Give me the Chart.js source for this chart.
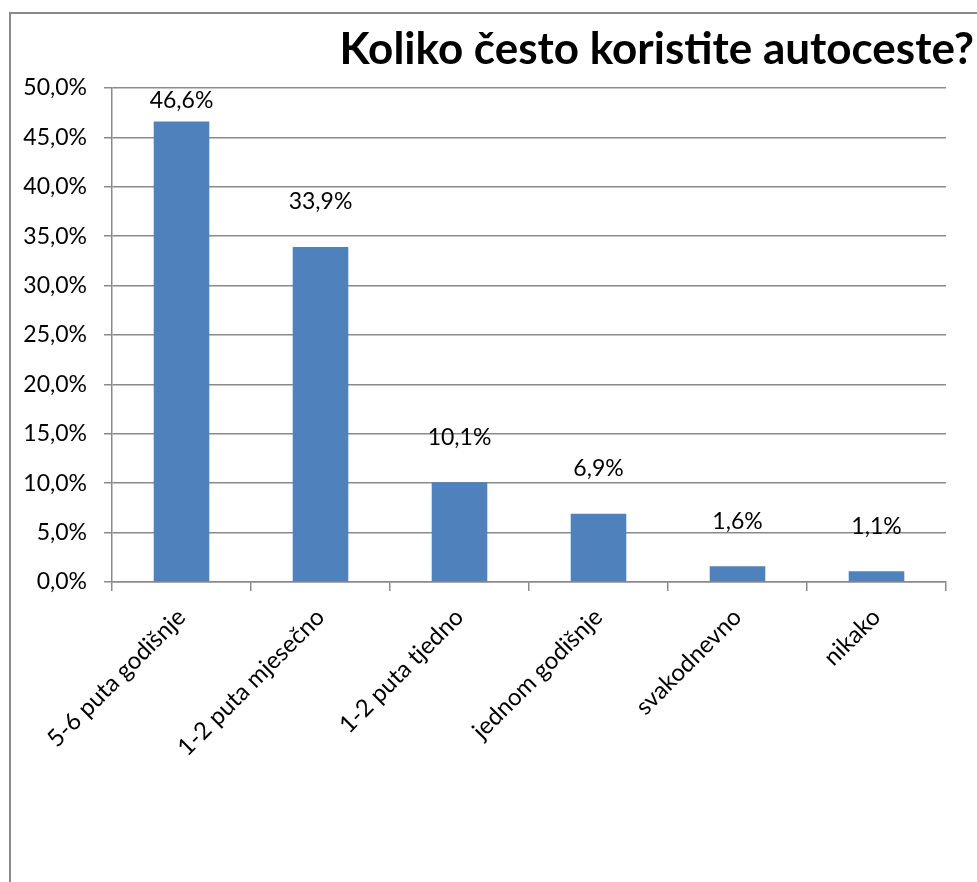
<!DOCTYPE html>
<html>
<head>
<meta charset="utf-8">
<script src="https://cdn.jsdelivr.net/npm/chart.js@4.4.1/dist/chart.umd.min.js"></script>
<style>
    html, body { margin: 0; padding: 0; background: #fff; overflow: hidden; }
    #frame {
        position: absolute; left: 9px; top: 12px; width: 1000px; height: 900px;
        border-left: 2px solid #8a8a8a; border-top: 2px solid #8a8a8a;
    }
    #wrap { position: absolute; left: 0; top: 0; width: 977px; height: 882px; }
</style>
</head>
<body>
<div id="frame"></div>
<div id="wrap"><canvas id="usageChart"></canvas></div>
<script>
// podaci s grafa
const categories = ['5-6 puta godišnje', '1-2 puta mjesečno', '1-2 puta tjedno', 'jednom godišnje', 'svakodnevno', 'nikako'];
const shares = [46.6, 33.9, 10.1, 6.9, 1.6, 1.1];
const yTicks = [0, 5, 10, 15, 20, 25, 30, 35, 40, 45, 50];
const chartTitle = 'Koliko često koristite autoceste?';

const fmt = v => v.toFixed(1).replace('.', ',') + '%';
const font = 'Lato';

// natpisi iznad stupaca
const valueLabels = {
    id: 'valueLabels',
    afterDatasetsDraw(chart) {
        const ctx = chart.ctx;
        const meta = chart.getDatasetMeta(0);
        ctx.save();
        ctx.font = '23px ' + font;
        ctx.fillStyle = '#000';
        ctx.textAlign = 'center';
        ctx.textBaseline = 'middle';
        meta.data.forEach((bar, i) => {
            const y = Math.max(bar.y - 45, 101);
            ctx.fillText(fmt(shares[i]), bar.x, y);
        });
        ctx.restore();
    }
};

const ctx = document.getElementById('usageChart').getContext('2d');
new Chart(ctx, {
    type: 'bar',
    data: {
        labels: categories,
        datasets: [{
            data: shares,
            backgroundColor: '#4f81bd',
            borderWidth: 0,
            barPercentage: 0.4,
            categoryPercentage: 1
        }]
    },
    options: {
        responsive: true,
        maintainAspectRatio: false,
        animation: false,
        layout: { padding: { left: 0, right: 3, top: 0, bottom: 0 } },
        plugins: {
            legend: { display: false },
            tooltip: { enabled: false },
            title: {
                display: true,
                text: chartTitle,
                align: 'end',
                color: '#000',
                font: { family: font, size: 44, weight: 'bold' },
                padding: { top: 23.6, bottom: 11.6 }
            }
        },
        scales: {
            x: {
                offset: true,
                grid: { display: true, offset: true, drawOnChartArea: false, color: '#8a8a8a', lineWidth: 1.5, tickLength: 9 },
                border: { color: '#8a8a8a', width: 1.5 },
                ticks: { color: '#000', font: { family: font, size: 24 }, maxRotation: 45, minRotation: 45, padding: 12 },
                afterFit(scale) { scale.height = 300; }
            },
            y: {
                min: 0,
                max: 50,
                afterBuildTicks(scale) { scale.ticks = yTicks.map(v => ({ value: v })); },
                grid: { color: '#8a8a8a', lineWidth: 1.5, tickLength: 8 },
                border: { color: '#8a8a8a', width: 1.5 },
                ticks: { color: '#000', font: { family: font, size: 23 }, padding: 17, callback: v => fmt(v) },
                afterFit(scale) { scale.width = 112; }
            },
            pad: {
                type: 'linear',
                position: 'right',
                display: true,
                grid: { display: false },
                border: { display: false },
                ticks: { display: false },
                afterFit(scale) { scale.width = 28; }
            }
        }
    },
    plugins: [valueLabels]
});
</script>
</body>
</html>
